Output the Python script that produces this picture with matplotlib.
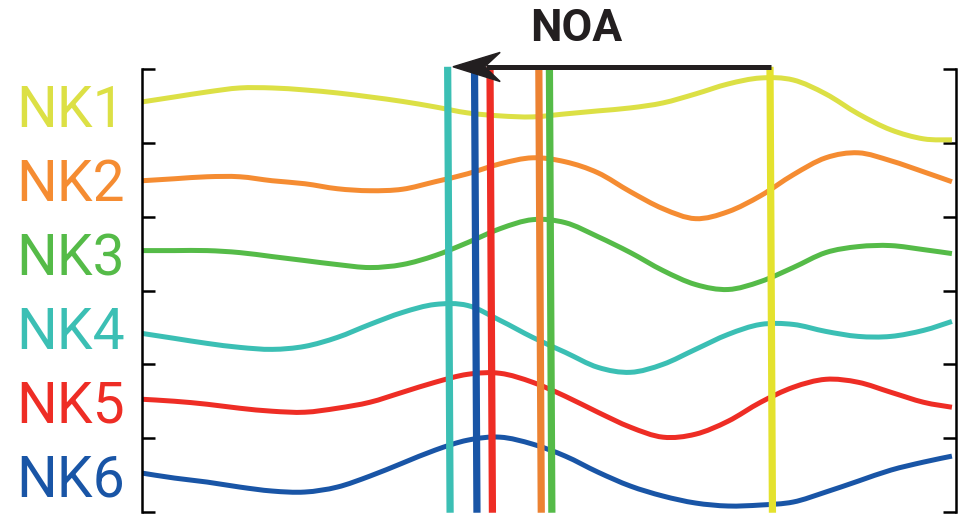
import numpy as np
import matplotlib.pyplot as plt
from matplotlib.patches import Polygon, PathPatch
from matplotlib.path import Path

# sample times (arbitrary units)
t = [0, 4, 8, 12, 16, 20, 24, 28, 32, 36, 40, 44, 48, 52, 56, 60, 64, 68, 72, 76, 80, 84, 88, 92, 96, 99.5]

# traces, offset from each row's baseline
nk1 = [4, 9, 14, 18, 18, 16, 13, 9, 4.5, -1, -7, -10, -11, -8, -5, -2, 3, 12, 22, 28, 26, 12, -8, -24, -33, -34]
nk2 = [-1, 1, 3, 3, -1, -4, -9, -11, -9.5, -2, 6, 16, 22, 18, 7, -12, -29, -39, -32, -16, 5, 22, 27, 19, 8, -2]
nk3 = [3, 3, 3, 1, -3, -7, -11, -14, -11, -2, 11, 25, 34, 31, 17, 1, -17, -31, -36, -28, -14, 1, 7, 8, 4, 0]
nk4 = [-6, -11, -16, -20, -22, -19, -10, 3, 15, 23, 22, 7, -10, -25, -40, -45, -37, -22, -7, 3, 3, -4, -9, -9, -3, 6]
nk5 = [2, 0, -3, -7, -10, -11, -7, -1, 9, 19, 27, 28, 19, 5, -11, -26, -36, -33, -20, -1, 14, 22, 19, 9, -1, -6]
nk6 = [2, -3, -7, -12, -16, -17, -12, -1, 12, 25, 35, 38, 31, 19, 3, -11, -21, -28, -31, -30, -27, -17, -6, 5, 13, 19]

names = ['NK1', 'NK2', 'NK3', 'NK4', 'NK5', 'NK6']
traces = [nk1, nk2, nk3, nk4, nk5, nk6]
onsets = [77.3, 48.9, 50.2, 37.7, 42.9, 41.0]  # onset time of each channel

colors = ['#dce045', '#f58c32', '#55bb48', '#3bbfb4', '#ee2d25', '#1955a6']
onset_colors = ['#e4e22e', '#ec8232', '#55bb48', '#3bbfb4', '#ee2d25', '#1955a6']

gain = 1 / 74.0
n = len(names)


def smooth_path(x, y):
    # catmull-rom through the samples, drawn as cubic bezier segments
    p = np.column_stack([x, y])
    ext = np.vstack([p[0], p, p[-1]])
    verts = [p[0]]
    codes = [Path.MOVETO]
    for k in range(len(p) - 1):
        p0, p1, p2, p3 = ext[k], ext[k + 1], ext[k + 2], ext[k + 3]
        verts += [p1 + (p2 - p0) / 6, p2 - (p3 - p1) / 6, p2]
        codes += [Path.CURVE4] * 3
    return Path(verts, codes)


fig = plt.figure(figsize=(9.67, 5.23), dpi=100)
ax = fig.add_axes([142 / 967, 11 / 523, 814 / 967, 443 / 523])

# traces
for i in range(n):
    base = n - i - 0.5
    y = [base + v * gain for v in traces[i]]
    ax.add_patch(PathPatch(smooth_path(t, y), fill=False, edgecolor=colors[i],
                           lw=3.6, capstyle='butt', zorder=2))

# onset markers
top = n + 0.03
for i in range(n):
    x = onsets[i]
    ax.plot([x + 0.15, x - 0.15], [-0.01, top], color=onset_colors[i], lw=5.2,
            solid_capstyle='butt', clip_on=False, zorder=3)

# propagation arrow (latest onset -> earliest onset)
x_tip = min(onsets) + 0.5
x_tail = max(onsets)
ax.plot([x_tail, x_tip + 4], [top, top], color='#231f20', lw=3.6,
        solid_capstyle='butt', clip_on=False, zorder=4)
head = Polygon([[x_tip, top], [x_tip + 5.8, top + 0.195], [x_tip + 3.9, top],
                [x_tip + 5.8, top - 0.2]], closed=True, color='#231f20',
               clip_on=False, zorder=5)
ax.add_patch(head)
ax.text(53.4, n + 0.54, 'NOA', ha='center', va='center', fontsize=32,
        fontweight='bold', family=['Roboto', 'DejaVu Sans'], color='#231f20')

ax.set_xlim(0, 100)
ax.set_ylim(0, n)
ax.set_xticks([])

# bracket ticks at row borders, channel names at row centres
ax.set_yticks(range(n + 1))
ax.set_yticklabels([])
ax.set_yticks([k + 0.5 for k in range(n)], minor=True)
ax.set_yticklabels(names[::-1], minor=True)
ax.tick_params(axis='y', which='major', direction='in', left=True, right=True,
               length=9.5, width=1.8)
ax.tick_params(axis='y', which='minor', length=0, pad=12)
for lbl, c in zip(ax.get_yticklabels(minor=True), colors[::-1]):
    lbl.set_color(c)
    lbl.set_fontsize(41)
    lbl.set_fontfamily(['Roboto', 'DejaVu Sans'])

for s in ['top', 'bottom']:
    ax.spines[s].set_visible(False)
for s in ['left', 'right']:
    ax.spines[s].set_linewidth(1.8)
    ax.spines[s].set_capstyle('projecting')

plt.savefig('out.png', dpi=100)
